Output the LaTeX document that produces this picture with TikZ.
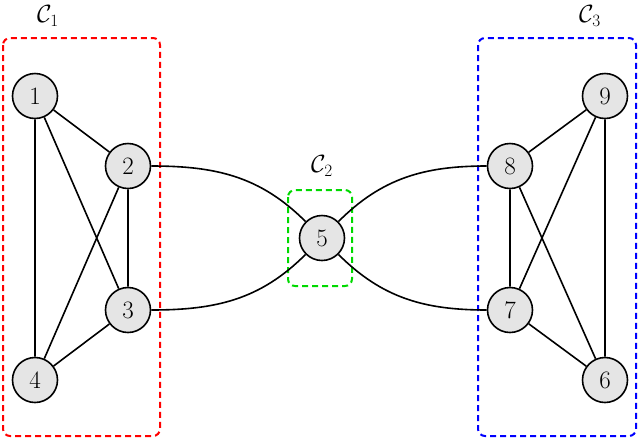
\documentclass[tikz,border=0pt]{standalone}
\usepackage{amsmath}
\begin{document}
\begin{tikzpicture}[x=1pt,y=-1pt,
 v/.style={circle,draw,line width=1.6pt,fill=gray!20,minimum size=45pt,inner sep=0pt,font=\fontsize{25}{28}\selectfont},
 e/.style={line width=1.6pt},
 box/.style={line width=2pt,rounded corners=7pt,dash pattern=on 6pt off 4pt}]
\useasboundingbox (0,0) rectangle (640,440);
\draw[box,red] (3,38) rectangle (160,436);
\draw[box,green!85!black] (288,190) rectangle (352,286);
\draw[box,blue] (478,38) rectangle (636,436);
\node (c1) at (48,16) {\fontsize{26}{30}\selectfont$\mathcal{C}_1$};
\node (c2) at (322,166) {\fontsize{26}{30}\selectfont$\mathcal{C}_2$};
\node (c3) at (590,16) {\fontsize{26}{30}\selectfont$\mathcal{C}_3$};
\node[v] (1) at (35,96) {1};
\node[v] (2) at (128,166) {2};
\node[v] (3) at (128,310) {3};
\node[v] (4) at (35,380) {4};
\node[v] (5) at (322,238) {5};
\node[v] (8) at (510,166) {8};
\node[v] (7) at (510,310) {7};
\node[v] (9) at (605,96) {9};
\node[v] (6) at (605,380) {6};
\draw[e] (1)--(2) (1)--(3) (1)--(4) (2)--(3) (2)--(4) (3)--(4);
\draw[e] (8)--(9) (8)--(7) (8)--(6) (7)--(9) (7)--(6) (9)--(6);
\draw[e] (2) to[out=0,in=135] (5);
\draw[e] (3) to[out=0,in=-135] (5);
\draw[e] (8) to[out=180,in=45] (5);
\draw[e] (7) to[out=180,in=-45] (5);
\end{tikzpicture}
\end{document}
